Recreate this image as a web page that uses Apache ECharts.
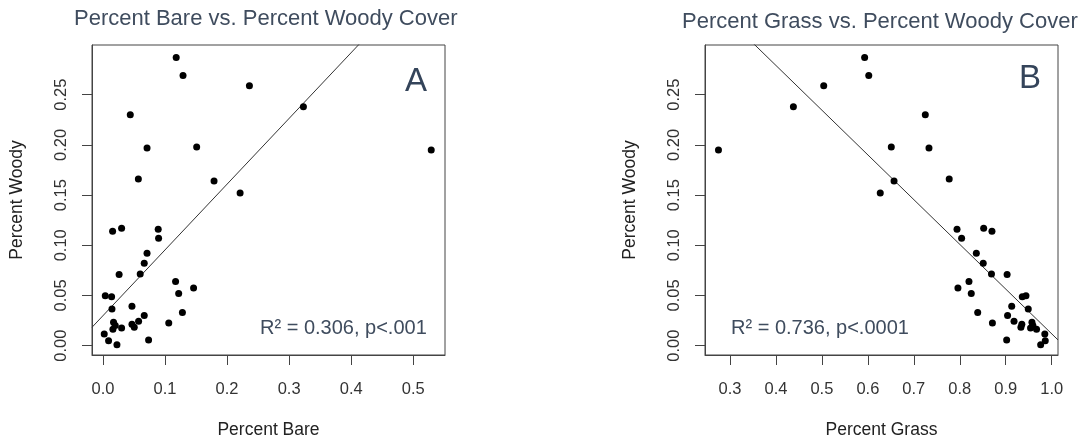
<!DOCTYPE html>
<html>
<head>
<meta charset="utf-8">
<script src="https://cdn.jsdelivr.net/npm/echarts@6/dist/echarts.min.js"></script>
<style>
html,body{margin:0;padding:0;background:#fff;}
#chart{width:1090px;height:445px;}
</style>
</head>
<body>
<div id="chart"></div>
<script>
// ---- data ----
var woody = [0.287,0.269,0.259,0.238,0.230,0.198,0.197,0.195,0.166,0.164,0.152,0.117,0.116,0.114,0.107,0.092,0.082,0.071,0.0714,0.064,0.0575,0.052,0.0498,0.0488,0.0392,0.0366,0.033,0.030,0.0243,0.0233,0.0226,0.0213,0.020,0.0183,0.0176,0.0163,0.0117,0.005,0.001,0.0057];
var bare  = [0.118,0.129,0.236,0.323,0.044,0.151,0.071,0.529,0.057,0.179,0.221,0.030,0.089,0.0155,0.0896,0.071,0.0665,0.026,0.060,0.117,0.146,0.122,0.0037,0.0139,0.0467,0.0145,0.128,0.0665,0.0574,0.017,0.106,0.0467,0.0198,0.0504,0.030,0.016,0.002,0.009,0.0225,0.0735];
var grass = [0.593,0.602,0.504,0.438,0.725,0.651,0.733,0.275,0.777,0.657,0.627,0.852,0.794,0.870,0.804,0.836,0.851,0.903,0.869,0.820,0.796,0.825,0.944,0.936,0.913,0.949,0.839,0.904,0.918,0.957,0.871,0.935,0.959,0.933,0.954,0.967,0.985,0.986,0.976,0.902];

var xTicksBare  = [0.0,0.1,0.2,0.3,0.4,0.5];
var xTicksGrass = [0.3,0.4,0.5,0.6,0.7,0.8,0.9,1.0];
var yTicks      = [0.00,0.05,0.10,0.15,0.20,0.25];

// regression lines (intercept, slope)
var fitA = {a: 0.0299, b: 0.655};
var fitB = {a: 0.4574, b: -0.4456};

var titleA = 'Percent Bare vs. Percent Woody Cover';
var titleB = 'Percent Grass vs. Percent Woody Cover';
var labelA = 'A', labelB = 'B';
var statA = 'R\u00B2 = 0.306, p<.001';
var statB = 'R\u00B2 = 0.736, p<.0001';

// axis extents (R style, 4% padding)
var xRangeA = [-0.0177, 0.5512];
var xRangeB = [0.2457, 1.0137];
var yRange  = [-0.0093, 0.2995];

// ---- chart ----
var FONT = '"Liberation Sans", Arial, sans-serif';
var chart = echarts.init(document.getElementById('chart'), null, {renderer:'canvas'});

function pairs(xs, ys){ return xs.map(function(x,i){ return [x, ys[i]]; }); }
function fitLine(f, r){ return [[r[0], f.a + f.b*r[0]], [r[1], f.a + f.b*r[1]]]; }

function xAxisDef(idx, range, ticks, name){
  return {
    type:'value', gridIndex: idx, min: range[0], max: range[1], position:'bottom',
    name: name, nameLocation:'middle', nameGap: 66,
    nameTextStyle:{fontFamily:FONT, fontSize:17.5, color:'#222'},
    axisLine:{show:true, onZero:false, lineStyle:{color:'#444', width:1}},
    axisTick:{show:true, length:10, customValues: ticks, lineStyle:{color:'#444'}},
    axisLabel:{show:true, customValues: ticks, margin: 26, fontFamily:FONT, fontSize:16.5, color:'#333',
      formatter:function(v){ return v.toFixed(1); }},
    splitLine:{show:false}
  };
}
function yAxisDef(idx){
  return {
    type:'value', gridIndex: idx, min: yRange[0], max: yRange[1], position:'left',
    name:'Percent Woody', nameLocation:'middle', nameGap: 66,
    nameTextStyle:{fontFamily:FONT, fontSize:17.5, color:'#222'},
    axisLine:{show:true, onZero:false, lineStyle:{color:'#444', width:1}},
    axisTick:{show:true, length:10, customValues: yTicks, lineStyle:{color:'#444'}},
    axisLabel:{show:true, customValues: yTicks, rotate:90, margin: 22, fontFamily:FONT, fontSize:16.5, color:'#333',
      formatter:function(v){ return v.toFixed(2); }},
    splitLine:{show:false}
  };
}

var option = {
  backgroundColor:'#ffffff',
  animation:false,
  title:[
    {text:titleA, left:74, top:8, padding:0, textStyle:{fontFamily:FONT, fontSize:22, fontWeight:'normal', color:'#3f4c5e'}},
    {text:titleB, left:682, top:11, padding:0, textStyle:{fontFamily:FONT, fontSize:22, fontWeight:'normal', color:'#3f4c5e'}}
  ],
  grid:[
    {left:92, top:45, width:353, height:310, show:true, borderColor:'#444', borderWidth:1, backgroundColor:'transparent'},
    {left:705, top:45, width:353, height:310, show:true, borderColor:'#444', borderWidth:1, backgroundColor:'transparent'}
  ],
  xAxis:[ xAxisDef(0, xRangeA, xTicksBare, 'Percent Bare'), xAxisDef(1, xRangeB, xTicksGrass, 'Percent Grass') ],
  yAxis:[ yAxisDef(0), yAxisDef(1) ],
  series:[
    {type:'line', xAxisIndex:0, yAxisIndex:0, data: fitLine(fitA, xRangeA), symbol:'none', clip:true,
      lineStyle:{color:'#333', width:1}, silent:true, z:1},
    {type:'scatter', xAxisIndex:0, yAxisIndex:0, data: pairs(bare, woody), symbol:'circle', symbolSize:7,
      itemStyle:{color:'#000', opacity:1}, z:2},
    {type:'line', xAxisIndex:1, yAxisIndex:1, data: fitLine(fitB, xRangeB), symbol:'none', clip:true,
      lineStyle:{color:'#333', width:1}, silent:true, z:1},
    {type:'scatter', xAxisIndex:1, yAxisIndex:1, data: pairs(grass, woody), symbol:'circle', symbolSize:7,
      itemStyle:{color:'#000', opacity:1}, z:2}
  ],
  graphic:[
    {type:'text', x:416, y:82, style:{text:labelA, font:'33px '+FONT, fill:'#34445a', align:'center', verticalAlign:'middle'}},
    {type:'text', x:1030, y:79, style:{text:labelB, font:'33px '+FONT, fill:'#34445a', align:'center', verticalAlign:'middle'}},
    {type:'text', x:260, y:328, style:{text:statA, font:'20px '+FONT, fill:'#3f4c5e', align:'left', verticalAlign:'middle'}},
    {type:'text', x:731, y:328, style:{text:statB, font:'20px '+FONT, fill:'#3f4c5e', align:'left', verticalAlign:'middle'}}
  ]
};
chart.setOption(option);
</script>
</body>
</html>
